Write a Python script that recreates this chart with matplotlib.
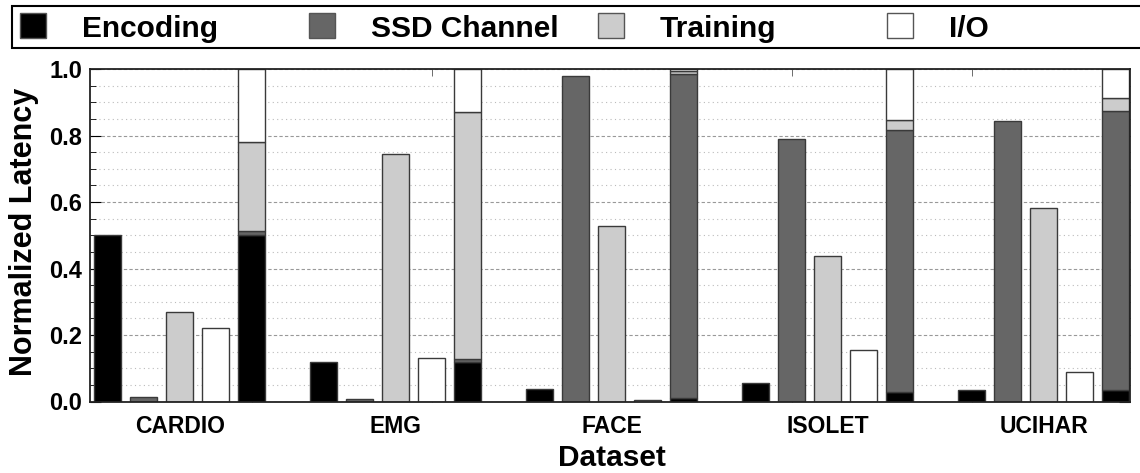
import matplotlib.pyplot as plt
from matplotlib.patches import Rectangle
from matplotlib.ticker import MultipleLocator, FixedLocator, FormatStrFormatter

plt.rcParams['font.family'] = ['Liberation Sans', 'DejaVu Sans']
plt.rcParams['font.weight'] = 'bold'

datasets = ['CARDIO', 'EMG', 'FACE', 'ISOLET', 'UCIHAR']
components = ['Encoding', 'SSD Channel', 'Training', 'I/O']
colors = ['#000000', '#666666', '#cccccc', '#ffffff']

# latency of each stage on its own
encoding = [0.500, 0.120, 0.038, 0.055, 0.034]
ssd_channel = [0.015, 0.007, 0.978, 0.790, 0.843]
training = [0.268, 0.743, 0.529, 0.439, 0.583]
io = [0.220, 0.130, 0.004, 0.154, 0.088]

# breakdown of the end-to-end latency (stacked bar)
total_encoding = [0.500, 0.120, 0.010, 0.028, 0.034]
total_ssd = [0.013, 0.007, 0.976, 0.788, 0.841]
total_training = [0.268, 0.744, 0.007, 0.031, 0.037]
total_io = [0.219, 0.129, 0.007, 0.153, 0.088]

single = [encoding, ssd_channel, training, io]
stacked = [total_encoding, total_ssd, total_training, total_io]

fig = plt.figure(figsize=(11.4, 4.73), dpi=100)
ax = fig.add_axes([90 / 1140, 1 - 401.5 / 473, 1039.5 / 1140, 332.5 / 473])

edge = '#3a3a3a'
width = 0.75
slots = 6  # 4 single bars + 1 stacked bar + gap

for g in range(len(datasets)):
    base = slots * g
    for k in range(4):
        ax.bar(base + k, single[k][g], width, color=colors[k],
               edgecolor=edge, linewidth=1.0)
    bottom = 0
    for k in range(4):
        ax.bar(base + 4, stacked[k][g], width, bottom=bottom, color=colors[k],
               edgecolor=edge, linewidth=1.0)
        bottom += stacked[k][g]

ax.set_xlim(-0.49, 28.38)
ax.set_ylim(0, 1.0)

ax.yaxis.set_major_locator(MultipleLocator(0.2))
ax.yaxis.set_minor_locator(MultipleLocator(0.05))
ax.yaxis.set_major_formatter(FormatStrFormatter('%.1f'))
ax.set_axisbelow(True)
ax.grid(axis='y', which='major', color='#999999', linestyle=(0, (3, 2)), linewidth=0.8)
ax.grid(axis='y', which='minor', color='#bbbbbb', linestyle=(0, (1, 3)), linewidth=0.8)

centers = [slots * g + 2 for g in range(len(datasets))]
ax.set_xticks(centers)
ax.set_xticklabels(datasets)
ax.xaxis.set_minor_locator(FixedLocator([4, 9, 14, 19, 24]))

ax.tick_params(axis='x', which='major', length=0, pad=10, labelsize=16.5)
ax.tick_params(axis='x', which='minor', direction='in', length=5, top=True, bottom=True,
               color='#555555')
ax.tick_params(axis='y', which='major', direction='in', length=8, right=True,
               pad=5.5, labelsize=17)
ax.tick_params(axis='y', which='minor', direction='in', length=4, right=True)
for lbl in ax.get_xticklabels() + ax.get_yticklabels():
    lbl.set_fontweight('bold')

for sp in ax.spines.values():
    sp.set_linewidth(1.3)
    sp.set_color('#222222')

fig.text(24 / 1140, 1 - 232 / 473, 'Normalized Latency', rotation=90,
         ha='center', va='center', fontsize=22, fontweight='bold')
fig.text(612 / 1140, 1 - 466 / 473, 'Dataset', ha='center', va='baseline',
         fontsize=21.5, fontweight='bold')

# legend strip across the top
fig.add_artist(Rectangle((12 / 1140, 1 - 48 / 473), 1.2, 42 / 473,
                         transform=fig.transFigure, facecolor='white',
                         edgecolor='black', linewidth=1.5, clip_on=False))
for k, name in enumerate(components):
    x0 = 20 + 289 * k
    fig.add_artist(Rectangle((x0 / 1140, 1 - 38 / 473), 26 / 1140, 25 / 473,
                             transform=fig.transFigure, facecolor=colors[k],
                             edgecolor='#555555', linewidth=1.0))
    fig.text((x0 + 62) / 1140, 1 - 37 / 473, name, ha='left', va='baseline',
             fontsize=21.5, fontweight='bold')

fig.savefig('out.png', dpi=100)
